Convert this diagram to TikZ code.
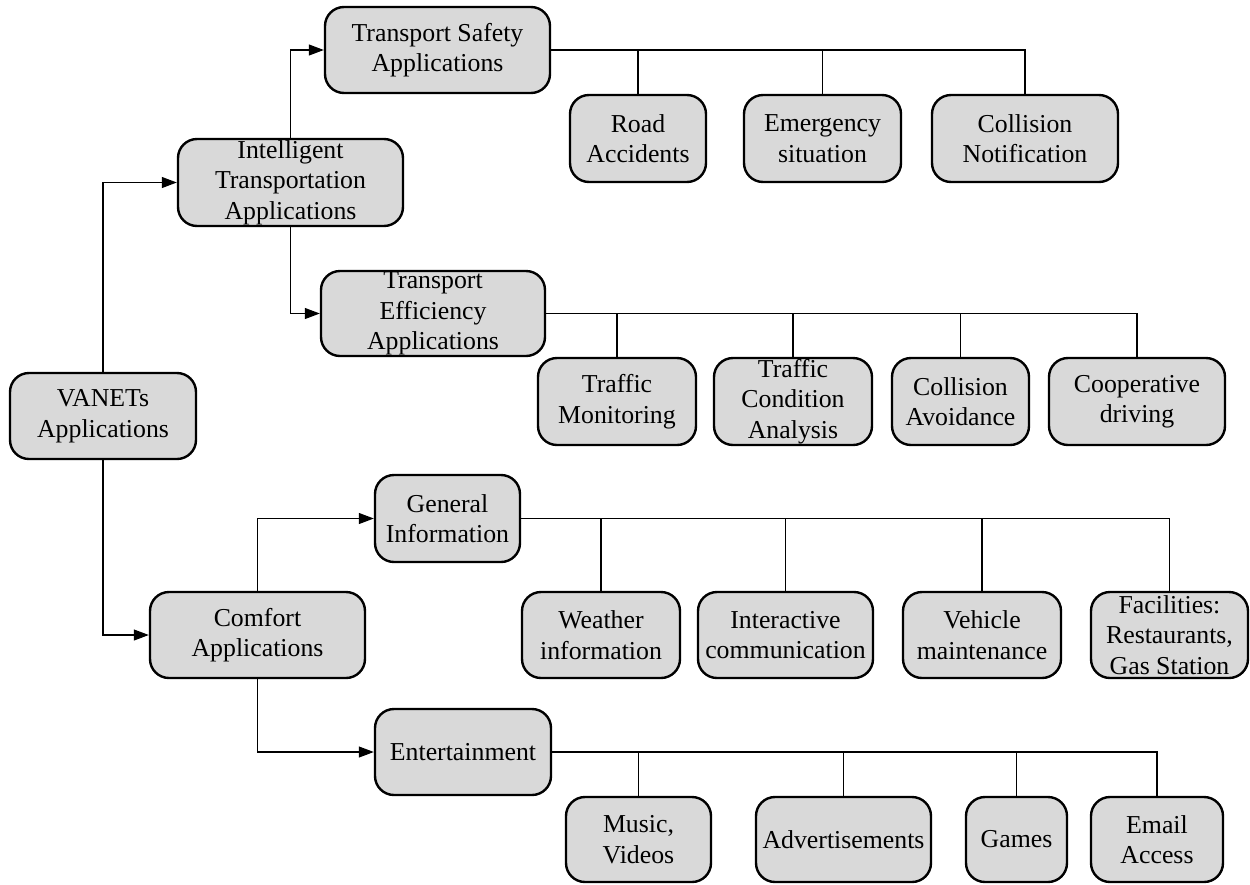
\documentclass[tikz,border=0pt]{standalone}
\usepackage{fontspec}
\setmainfont{Liberation Serif}
\usetikzlibrary{arrows.meta}
\definecolor{boxgray}{RGB}{217,217,217}
\tikzset{
  box/.style={draw=black, fill=boxgray, line width=2.4pt, rounded corners=19pt,
    align=center, inner sep=0pt, font=\fontsize{25.8}{30.5}\selectfont},
  arr/.style={line width=1.1pt, -{Triangle[length=15pt,width=11pt]}},
  conn/.style={line width=1.05pt}
}
\begin{document}
\begin{tikzpicture}[x=1pt,y=-1pt]
\useasboundingbox (0,0) rectangle (1250,884);
% level nodes
\node[box, minimum width=186pt, minimum height=86pt] (van) at (103,416) {VANETs\\Applications};
\node[box, minimum width=225pt, minimum height=87pt] (ita) at (290.5,182.5) {Intelligent\\Transportation\\Applications};
\node[box, minimum width=225pt, minimum height=86pt] (tsa) at (437.5,50) {Transport Safety\\Applications};
\node[box, minimum width=224pt, minimum height=85pt] (tea) at (433,313.5) {Transport\\Efficiency\\Applications};
\node[box, minimum width=215pt, minimum height=86pt] (cfa) at (257.5,635) {Comfort\\Applications};
\node[box, minimum width=145pt, minimum height=87pt] (gi) at (447.5,518.5) {General\\Information};
\node[box, minimum width=176pt, minimum height=86pt] (ent) at (463,752) {Entertainment};
% safety children
\node[box, minimum width=136pt, minimum height=87pt] (ra) at (638,138.5) {Road\\Accidents};
\node[box, minimum width=157pt, minimum height=87pt] (es) at (822.5,138.5) {Emergency\\situation};
\node[box, minimum width=186pt, minimum height=87pt] (cn) at (1025,138.5) {Collision\\Notification};
% efficiency children
\node[box, minimum width=158pt, minimum height=87pt] (tm) at (617,401.5) {Traffic\\Monitoring};
\node[box, minimum width=158pt, minimum height=87pt] (tca) at (793,401.5) {Traffic\\Condition\\Analysis};
\node[box, minimum width=137pt, minimum height=87pt] (cav) at (960.5,401.5) {Collision\\Avoidance};
\node[box, minimum width=176pt, minimum height=87pt] (cd) at (1137,401.5) {Cooperative\\driving};
% general information children
\node[box, minimum width=158pt, minimum height=86pt] (wi) at (601,635) {Weather\\information};
\node[box, minimum width=175pt, minimum height=86pt] (ic) at (785.5,635) {Interactive\\communication};
\node[box, minimum width=158pt, minimum height=86pt] (vm) at (982,635) {Vehicle\\maintenance};
\node[box, minimum width=157pt, minimum height=86pt] (fac) at (1169.5,635) {Facilities:\\Restaurants,\\Gas Station};
% entertainment children
\node[box, minimum width=145pt, minimum height=85pt] (mv) at (638.5,839.5) {Music,\\Videos};
\node[box, minimum width=175pt, minimum height=85pt] (adv) at (843.5,839.5) {Advertisements};
\node[box, minimum width=101pt, minimum height=85pt] (gm) at (1016.5,839.5) {Games};
\node[box, minimum width=132pt, minimum height=85pt] (ea) at (1157,839.5) {Email\\Access};
% arrows
\draw[arr] (van.north) |- (ita.west);
\draw[arr] (van.south) |- (cfa.west);
\draw[arr] (ita.north) |- (tsa.west);
\draw[arr] (ita.south) |- (tea.west);
\draw[arr] (cfa.north) |- (gi.west);
\draw[arr] (cfa.south) |- (ent.west);
% trees
\draw[conn] (tsa.east) -| (cn.north);
\draw[conn] (ra.north) -- (ra.north |- tsa.east);
\draw[conn] (es.north) -- (es.north |- tsa.east);
\draw[conn] (tea.east) -| (cd.north);
\draw[conn] (tm.north) -- (tm.north |- tea.east);
\draw[conn] (tca.north) -- (tca.north |- tea.east);
\draw[conn] (cav.north) -- (cav.north |- tea.east);
\draw[conn] (gi.east) -| (fac.north);
\draw[conn] (wi.north) -- (wi.north |- gi.east);
\draw[conn] (ic.north) -- (ic.north |- gi.east);
\draw[conn] (vm.north) -- (vm.north |- gi.east);
\draw[conn] (ent.east) -| (ea.north);
\draw[conn] (mv.north) -- (mv.north |- ent.east);
\draw[conn] (adv.north) -- (adv.north |- ent.east);
\draw[conn] (gm.north) -- (gm.north |- ent.east);
\end{tikzpicture}
\end{document}
